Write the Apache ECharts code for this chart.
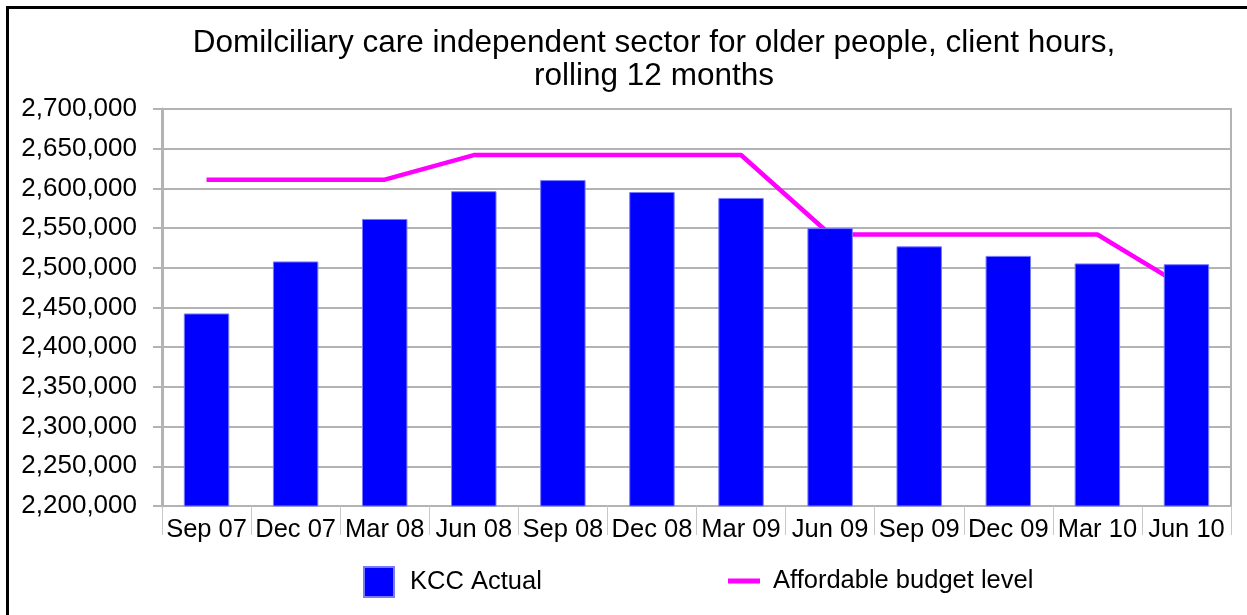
<!DOCTYPE html>
<html>
<head>
<meta charset="utf-8">
<script src="https://cdn.jsdelivr.net/npm/echarts@6/dist/echarts.min.js"></script>
<style>
html,body{margin:0;padding:0;background:#fff;}
#chart{width:1247px;height:615px;}
</style>
</head>
<body>
<div id="chart"></div>
<script>
var titleText = 'Domilciliary care independent sector for older people, client hours,\nrolling 12 months';
var categories = ['Sep 07','Dec 07','Mar 08','Jun 08','Sep 08','Dec 08','Mar 09','Jun 09','Sep 09','Dec 09','Mar 10','Jun 10'];
var kccActual = [2442500, 2508000, 2561500, 2596500, 2610500, 2595500, 2588000, 2550000, 2527000, 2515000, 2505500, 2504500];
var affordableBudget = [2611000, 2611000, 2611000, 2642000, 2642000, 2642000, 2642000, 2542000, 2542000, 2542000, 2542000, 2474000];
var yMin = 2200000, yMax = 2700000, yStep = 50000;

var FONT = "'Liberation Sans', Arial, Helvetica, sans-serif";
var GRID_COLOR = '#b3b3b3';

var chart = echarts.init(document.getElementById('chart'), null, {renderer: 'canvas'});
chart.setOption({
  animation: false,
  backgroundColor: '#fff',
  textStyle: {fontFamily: FONT},
  graphic: [
    {type: 'rect', shape: {x: 7.5, y: 7.5, width: 1300, height: 700}, style: {fill: 'none', stroke: '#000', lineWidth: 3}, silent: true, z: 100},
    {type: 'text', x: 654, y: 27, style: {text: titleText, fontFamily: FONT, fontSize: 31.5, lineHeight: 33, fill: '#000', textAlign: 'center', textVerticalAlign: 'top'}, silent: true}
  ],
  grid: {left: 162, right: 16, top: 109, bottom: 109, show: true, borderColor: GRID_COLOR, borderWidth: 2, containLabel: false},
  legend: [
    {data: ['KCC Actual'], left: 358, top: 561, itemWidth: 30, itemHeight: 30, icon: 'rect', selectedMode: false,
     textStyle: {fontFamily: FONT, fontSize: 25.5, color: '#000', lineHeight: 30, padding: [0, 0, 0, 11]}},
    {data: ['Affordable budget level'], left: 723, top: 561, itemWidth: 32, itemHeight: 5, icon: 'rect', selectedMode: false,
     textStyle: {fontFamily: FONT, fontSize: 25.5, color: '#000', lineHeight: 30, padding: [0, 0, 0, 8]}}
  ],
  xAxis: {
    type: 'category',
    data: categories,
    boundaryGap: true,
    axisLine: {show: true, lineStyle: {color: GRID_COLOR, width: 2}},
    axisTick: {show: true, alignWithLabel: false, length: 29, lineStyle: {color: '#c8c8c8', width: 1}},
    axisLabel: {interval: 0, fontFamily: FONT, fontSize: 25.5, color: '#000', margin: 11}
  },
  yAxis: {
    type: 'value',
    min: yMin, max: yMax, interval: yStep,
    axisLine: {show: true, lineStyle: {color: GRID_COLOR, width: 3}},
    axisTick: {show: true, length: 9, lineStyle: {color: GRID_COLOR, width: 2}},
    splitLine: {show: true, lineStyle: {color: GRID_COLOR, width: 2}},
    axisLabel: {fontFamily: FONT, fontSize: 26, color: '#000', margin: 25,
      formatter: function (v) { return String(v).replace(/\B(?=(\d{3})+(?!\d))/g, ','); }}
  },
  series: [
    {name: 'Affordable budget level', type: 'line', data: affordableBudget, z: 1,
     showSymbol: false, symbol: 'none', color: '#ff00ff',
     lineStyle: {color: '#ff00ff', width: 4.5}, itemStyle: {color: '#ff00ff'}},
    {name: 'KCC Actual', type: 'bar', data: kccActual, z: 2, barWidth: '51%',
     itemStyle: {color: '#0000ff', borderColor: '#7a7aff', borderWidth: 1}}
  ]
});
</script>
</body>
</html>
